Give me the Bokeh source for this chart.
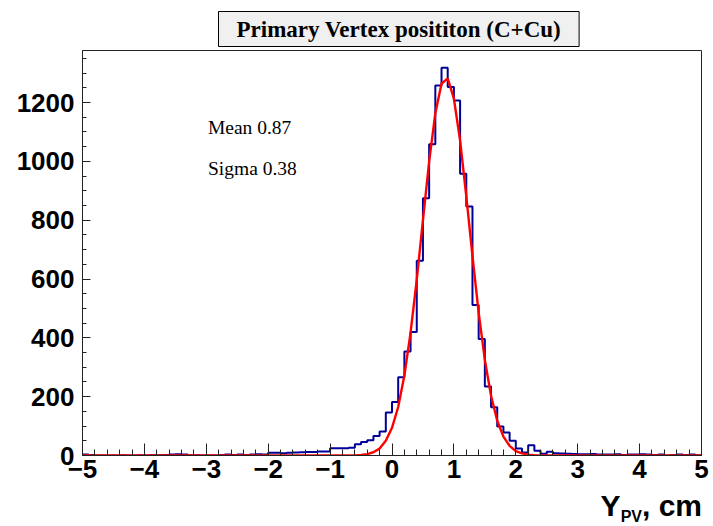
from bokeh.plotting import figure
from bokeh.models import Range1d, SingleIntervalTicker, Label, Title, Div
from bokeh.layouts import column
from bokeh.embed import file_html
from bokeh.resources import INLINE

# ---------------- data ----------------
x_min, x_max, bin_width = -5.0, 5.0, 0.1
counts = [
    3, 2, 0, 0, 0, 0, 1, 0, 0, 1,            # -5.0 .. -4.1
    0, 2, 1, 2, 3, 4, 3, 1, 1, 0,            # -4.0 .. -3.1
    0, 0, 2, 3, 2, 3, 2, 3, 4, 3,            # -3.0 .. -2.1
    9, 9, 8, 9, 10, 11, 12, 12, 14, 14,      # -2.0 .. -1.1
    25, 25, 25, 26, 38, 46, 52, 66, 82, 146, # -1.0 .. -0.1
    182, 266, 354, 420, 662, 875, 1058, 1258, 1318, 1253,  # 0.0 .. 0.9
    1207, 958, 847, 512, 396, 235, 164, 99, 78, 50,        # 1.0 .. 1.9
    24, 10, 35, 16, 6, 13, 8, 7, 6, 5,       # 2.0 .. 2.9
    4, 4, 5, 3, 3, 3, 4, 2, 3, 3,            # 3.0 .. 3.9
    4, 3, 2, 3, 0, 2, 3, 2, 3, 1,            # 4.0 .. 4.9
]
fit_x = [-5.0, -0.6, -0.5, -0.4, -0.3, -0.2, -0.1, 0.0, 0.1, 0.2, 0.3, 0.4, 0.5,
         0.6, 0.7, 0.8, 0.9, 1.0, 1.1, 1.2, 1.3, 1.4, 1.5, 1.6, 1.7, 1.8, 1.9,
         2.0, 2.1, 2.2, 2.3, 2.4, 5.0]
fit_y = [0, 0.5, 1.9, 4.8, 11, 24, 50, 94, 165, 272, 418, 598, 800,
         999, 1164, 1264, 1282, 1213, 1071, 882, 678, 486, 325, 203, 118, 64, 33,
         15, 7, 3, 1, 0.4, 0]
x_ticks = [-5, -4, -3, -2, -1, 0, 1, 2, 3, 4, 5]
x_tick_labels = ["\u22125", "\u22124", "\u22123", "\u22122", "\u22121", "0", "1", "2", "3", "4", "5"]
title_text = "Primary Vertex posititon (C+Cu)"
mean_text = "Mean 0.87"
sigma_text = "Sigma 0.38"
xlabel_main, xlabel_sub, xlabel_tail = "Y", "PV", ", cm"

# ---------------- figure ----------------
y_top = 1377
p = figure(width=713, height=492, output_backend="svg", toolbar_location=None,
           x_range=Range1d(x_min, x_max), y_range=Range1d(0, y_top),
           min_border_left=82, min_border_right=12, min_border_top=50, min_border_bottom=37)
p.background_fill_color = "white"
p.border_fill_color = "white"
p.outline_line_color = "#222222"
p.outline_line_width = 1
p.grid.visible = False

n = len(counts)
edges = [x_min + i * bin_width for i in range(n + 1)]
step_y = list(counts) + [counts[-1]]
p.step(edges, step_y, mode="after", line_color="#000099", line_width=2)
p.line(fit_x, fit_y, line_color="#ff0000", line_width=2.4)

xa = p.xaxis[0]
xa.ticker = SingleIntervalTicker(interval=1, num_minor_ticks=5)
xa.major_label_overrides = {t: s for t, s in zip(x_ticks, x_tick_labels)}
ya = p.yaxis[0]
ya.ticker = SingleIntervalTicker(interval=200, num_minor_ticks=4)
for ax in (xa, ya):
    ax.axis_line_color = "#222222"
    ax.major_tick_line_color = "#222222"
    ax.minor_tick_line_color = "#222222"
    ax.major_tick_out = 0
    ax.minor_tick_out = 0
    ax.major_label_text_font = "Liberation Sans"
    ax.major_label_text_font_style = "bold"
    ax.major_label_text_font_size = "26px"
    ax.major_label_text_color = "black"
xa.major_tick_in = 12
xa.minor_tick_in = 6
xa.major_label_standoff = 4
ya.major_tick_in = 8
ya.minor_tick_in = 4
ya.major_label_standoff = 8

# title box
p.add_layout(Title(text=title_text, align="left", offset=136, standoff=8,
                   text_font="Liberation Serif", text_font_size="23px", text_font_style="bold",
                   text_color="black", background_fill_color="#f0f0f0",
                   border_line_color="black", border_line_width=1,
                   padding=dict(left=18, right=18, top=5, bottom=5)), "above")

# stats text
p.add_layout(Label(x=-2.973, y=1115, text=mean_text, text_font="Liberation Serif",
                   text_font_size="19.5px", text_baseline="alphabetic", text_color="black"))
p.add_layout(Label(x=-2.973, y=976, text=sigma_text, text_font="Liberation Serif",
                   text_font_size="19.5px", text_baseline="alphabetic", text_color="black"))

# x-axis title with subscript
xlabel_html = (
    '<div style="width:702px;text-align:right;font-family:\'Liberation Sans\';font-weight:bold;'
    'font-size:30px;line-height:28px;color:black;white-space:nowrap;">'
    + xlabel_main
    + '<span style="font-size:16px;vertical-align:-6px;">' + xlabel_sub + '</span>'
    + xlabel_tail + '</div>'
)
xlabel_div = Div(text=xlabel_html, width=713, height=34,
                 styles={"overflow": "visible", "margin": "0", "padding": "0"})

layout = column(p, xlabel_div, spacing=0)
open("out.html", "w").write(file_html(layout, INLINE))
